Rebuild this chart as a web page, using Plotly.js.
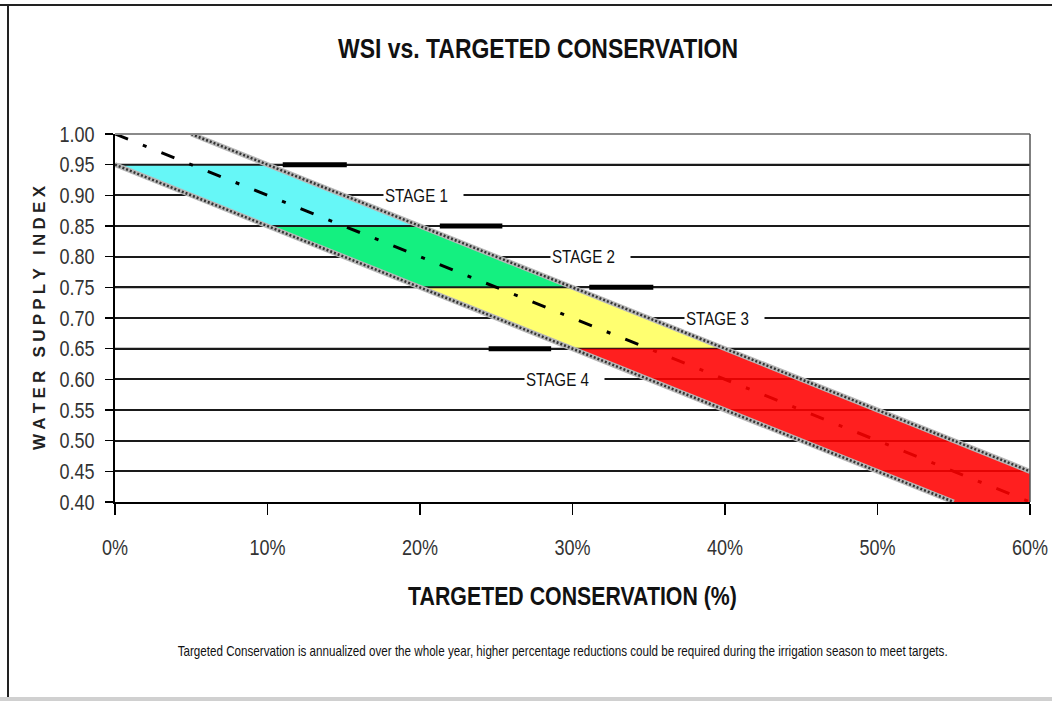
<!DOCTYPE html>
<html>
<head>
<meta charset="utf-8">
<script src="https://cdn.plot.ly/plotly-3.0.1.min.js"></script>
<style>
  html, body { margin: 0; padding: 0; background: #ffffff; }
  #chart { width: 1052px; height: 702px; }
</style>
</head>
<body>
<div id="chart"></div>
<script>
// ---------------- data ----------------
const xTickVals = [0, 10, 20, 30, 40, 50, 60];
const xTickText = ['0%', '10%', '20%', '30%', '40%', '50%', '60%'];
const yTickVals = [0.40, 0.45, 0.50, 0.55, 0.60, 0.65, 0.70, 0.75, 0.80, 0.85, 0.90, 0.95, 1.00];
const yTickText = ['0.40', '0.45', '0.50', '0.55', '0.60', '0.65', '0.70', '0.75', '0.80', '0.85', '0.90', '0.95', '1.00'];

// target line (dash-dot) and the upper / lower band limits
const targetX = [0, 10, 20, 30, 40, 50, 60];
const targetY = [1.00, 0.90, 0.80, 0.70, 0.60, 0.50, 0.40];
const upperX = [5, 15, 25, 35, 45, 55, 60];
const upperY = [1.00, 0.90, 0.80, 0.70, 0.60, 0.50, 0.45];
const lowerX = [0, 10, 20, 30, 40, 50, 55];
const lowerY = [0.95, 0.85, 0.75, 0.65, 0.55, 0.45, 0.40];

// stage bands (polygons between the limits)
const stage1X = [0, 10, 20, 10];
const stage1Y = [0.95, 0.95, 0.85, 0.85];
const stage2X = [10, 20, 30, 20];
const stage2Y = [0.85, 0.85, 0.75, 0.75];
const stage3X = [20, 30, 40, 30];
const stage3Y = [0.75, 0.75, 0.65, 0.65];
const stage4X = [30, 40, 60, 60, 55];
const stage4Y = [0.65, 0.65, 0.45, 0.40, 0.40];

// stage trigger levels and short thick markers
const triggerY = [0.95, 0.85, 0.75, 0.65];
const markStart = [11.0, 21.3, 31.1, 24.5];
const markEnd = [15.2, 25.4, 35.3, 28.6];

// stage labels
const stageNames = ['STAGE 1', 'STAGE 2', 'STAGE 3', 'STAGE 4'];
const stageLabelY = [0.90, 0.80, 0.70, 0.60];
const stageLabelX = [17.6, 28.5, 37.3, 26.8];

// ---------------- layout helpers ----------------
const PL = 115, PR = 1030, PT = 134, PB = 502, W = 1052, H = 702;
const px2x = p => (p - PL) / (PR - PL);
const px2y = p => (PB - p) / (PB - PT);

const SANS = "'Liberation Sans', Arial, 'DejaVu Sans', sans-serif";
const NARROW_SCALE = 0.82;   // Liberation Sans squeezed to an Arial-Narrow look

const traces = [];
function band(xs, ys, color) {
  return { x: xs.concat([xs[0]]), y: ys.concat([ys[0]]), type: 'scatter', mode: 'lines',
           fill: 'toself', fillcolor: color, line: { width: 0, color: color },
           hoverinfo: 'skip', showlegend: false };
}
traces.push(band(stage1X, stage1Y, '#66f7f7'));
traces.push(band(stage2X, stage2Y, '#14f080'));
traces.push(band(stage3X, stage3Y, '#ffff70'));

// trigger grid lines over the bands
const gx = [], gy = [];
triggerY.forEach(v => { gx.push(0, 60, null); gy.push(v, v, null); });
traces.push({ x: gx, y: gy, type: 'scatter', mode: 'lines', line: { color: '#1a1a1a', width: 2 },
              hoverinfo: 'skip', showlegend: false });

// target dash-dot line
traces.push({ x: targetX, y: targetY, type: 'scatter', mode: 'lines',
              line: { color: '#000000', width: 3, dash: '14px,16px,4px,16px' },
              hoverinfo: 'skip', showlegend: false });

// stage 4 band (slightly translucent so the lines show through darkly)
traces.push(band(stage4X, stage4Y, 'rgba(255,0,0,0.88)'));

// hatched limit lines
[[upperX, upperY], [lowerX, lowerY]].forEach(([xs, ys]) => {
  traces.push({ x: xs, y: ys, type: 'scatter', mode: 'lines', line: { color: '#b8b8b8', width: 5 },
                hoverinfo: 'skip', showlegend: false });
  traces.push({ x: xs, y: ys, type: 'scatter', mode: 'lines', line: { color: '#333333', width: 2.5, dash: '2px,2px' },
                hoverinfo: 'skip', showlegend: false });
});

// thick trigger markers
const mx = [], my = [];
triggerY.forEach((v, i) => { mx.push(markStart[i], markEnd[i], null); my.push(v, v, null); });
traces.push({ x: mx, y: my, type: 'scatter', mode: 'lines', line: { color: '#000000', width: 5 },
              hoverinfo: 'skip', showlegend: false });

const annotations = stageNames.map((t, i) => ({
  x: stageLabelX[i], y: stageLabelY[i], xref: 'x', yref: 'y', text: t, showarrow: false,
  xanchor: 'left', yanchor: 'middle', align: 'left', bgcolor: '#ffffff', borderpad: 1,
  font: { family: SANS, size: 18.5, color: '#111111' }
}));
annotations.push({
  x: px2x(562), y: px2y(651), xref: 'paper', yref: 'paper', showarrow: false,
  xanchor: 'center', yanchor: 'middle',
  text: 'Targeted Conservation is annualized over the whole year, higher percentage reductions could be required during the irrigation season to meet targets.',
  font: { family: SANS, size: 14.2, color: '#111111' }
});

const shapes = [
  // plot frame top (1.00) and right (60%)
  { type: 'line', xref: 'paper', yref: 'paper', x0: 0, x1: 1, y0: 1, y1: 1, line: { color: '#8a8a8a', width: 2 } },
  { type: 'line', xref: 'paper', yref: 'paper', x0: 1, x1: 1, y0: 0, y1: 1, line: { color: '#555555', width: 1.5 } },
  // outer chart frame
  { type: 'line', xref: 'paper', yref: 'paper', x0: px2x(8), x1: px2x(8), y0: px2y(5), y1: px2y(699), line: { color: '#222222', width: 2 } },
  { type: 'line', xref: 'paper', yref: 'paper', x0: px2x(0), x1: px2x(1052), y0: px2y(5), y1: px2y(5), line: { color: '#222222', width: 2 } },
  { type: 'line', xref: 'paper', yref: 'paper', x0: px2x(0), x1: px2x(1052), y0: px2y(699), y1: px2y(699), line: { color: '#d0d0d0', width: 4 } }
];

const yTitle = 'WATER SUPPLY INDEX'.split('').join('\u2005');

const layout = {
  width: W, height: H,
  margin: { l: PL, r: W - PR, t: PT, b: H - PB, pad: 0 },
  paper_bgcolor: '#ffffff', plot_bgcolor: '#ffffff',
  showlegend: false,
  title: {
    text: 'WSI vs. TARGETED CONSERVATION',
    font: { family: SANS, size: 28, color: '#111111', weight: 'bold' },
    x: 538 / W, xanchor: 'center', xref: 'container',
    y: 1 - 48 / H, yanchor: 'middle', yref: 'container'
  },
  xaxis: {
    range: [0, 60], tickmode: 'array', tickvals: xTickVals, ticktext: xTickText,
    ticks: 'outside', ticklen: 11, tickwidth: 1.5, tickcolor: '#000000',
    showline: true, linecolor: '#000000', linewidth: 2, showgrid: false, zeroline: false,
    tickfont: { family: SANS, size: 22, color: '#333333' }, ticklabelstandoff: 14,
    ticklabeloverflow: 'allow',
    title: { text: 'TARGETED CONSERVATION (%)', standoff: 27,
             font: { family: SANS, size: 26, color: '#111111', weight: 'bold' } },
    automargin: false, fixedrange: true
  },
  yaxis: {
    range: [0.40, 1.00], tickmode: 'array', tickvals: yTickVals, ticktext: yTickText,
    ticks: 'outside', ticklen: 8, tickwidth: 1.5, tickcolor: '#000000',
    showline: true, linecolor: '#000000', linewidth: 2,
    showgrid: true, gridcolor: '#1a1a1a', gridwidth: 2, zeroline: false,
    tickfont: { family: SANS, size: 22, color: '#333333' }, ticklabelstandoff: 6,
    ticklabeloverflow: 'allow',
    title: { text: yTitle, standoff: 2,
             font: { family: SANS, size: 17, color: '#222222', weight: 'bold' } },
    automargin: false, fixedrange: true
  },
  annotations: annotations,
  shapes: shapes
};

function squeeze(gd) {
  const sel = ['.xtick text', '.ytick text', '.gtitle', '.xtitle', '.annotation-text'];
  gd.querySelectorAll(sel.join(',')).forEach(el => {
    const x = parseFloat(el.getAttribute('x')) || 0;
    const y = parseFloat(el.getAttribute('y')) || 0;
    const t = el.getAttribute('transform') || '';
    el.setAttribute('transform',
      (t + ' translate(' + x + ',' + y + ') scale(' + NARROW_SCALE + ',1) translate(' + (-x) + ',' + (-y) + ')').trim());
  });
}

Plotly.newPlot('chart', traces, layout, { displayModeBar: false, staticPlot: true })
  .then(gd => squeeze(gd));
</script>
</body>
</html>
